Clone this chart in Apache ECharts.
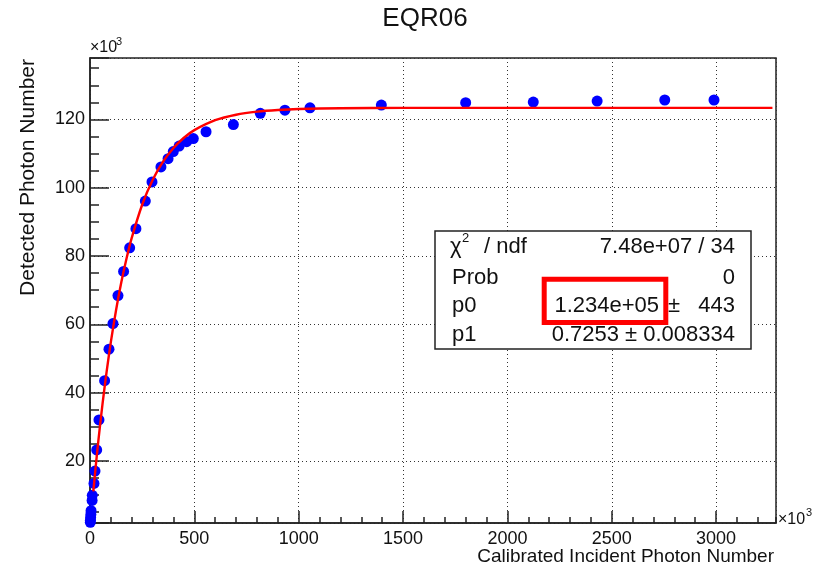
<!DOCTYPE html>
<html><head><meta charset="utf-8">
<script src="https://cdn.jsdelivr.net/npm/echarts@6/dist/echarts.min.js"></script>
<style>html,body{margin:0;padding:0;background:#fff}#c{width:815px;height:566px}</style>
</head><body><div id="c"></div>
<script>
// ---- data (units: ×10^3) ----
const chartTitle = 'EQR06';
const xTitle = 'Calibrated Incident Photon Number';
const yTitle = 'Detected Photon Number';
const pointX = [1.5, 2, 3, 4, 5, 10, 11, 19, 24, 32, 43, 70, 91, 110, 134, 161, 190, 220, 265, 297, 340, 374, 399, 427, 463, 495, 556, 687, 816, 934, 1054, 1396, 1800, 2124, 2430, 2754, 2990];
const pointY = [2.0, 2.6, 3.4, 4.3, 5.4, 8.4, 9.9, 13.4, 17.0, 23.2, 32.0, 43.5, 52.7, 60.2, 68.4, 75.5, 82.4, 88.0, 96.1, 101.7, 106.1, 108.5, 110.6, 112.2, 113.5, 114.4, 116.4, 118.5, 121.8, 122.7, 123.4, 124.2, 124.9, 125.1, 125.4, 125.7, 125.7];
const fitX = [16, 25, 40, 60, 80, 100, 125, 150, 175, 200, 250, 300, 350, 400, 450, 500, 600, 700, 800, 900, 1000, 1200, 1500, 2000, 3270];
const fitY = [11.08, 16.87, 25.85, 36.67, 46.29, 54.84, 64.21, 72.30, 79.29, 85.31, 95.01, 102.24, 107.63, 111.64, 114.64, 116.87, 119.77, 121.38, 122.28, 122.78, 123.05, 123.29, 123.38, 123.40, 123.40];
const xRange = [0, 3287];
const yRange = [1.8, 138];
const xMajor = 500, xMinor = 100;
const yMajor = 20, yMinor = 5;
const statsLabels = ['χ', 'Prob', 'p0', 'p1'];
const statsValues = ['7.48e+07 / 34', '0', '443', '0.7253 ± 0.008334'];
const p0Value = '1.234e+05';

const FONT = '"Liberation Sans", Arial, Helvetica, sans-serif';
const AX = '#222';
function isMult(v, m) { return Math.abs(v / m - Math.round(v / m)) < 1e-6; }

const chart = echarts.init(document.getElementById('c'), null, {renderer: 'canvas'});
const rows = [246.7, 278, 306, 335];
const SF = '22px ' + FONT;

chart.setOption({
  backgroundColor: '#fff',
  animation: false,
  grid: {left: 90, right: 39, top: 58, bottom: 43, show: true, borderColor: AX, borderWidth: 1.5, backgroundColor: 'transparent'},
  xAxis: [{
    type: 'value', min: xRange[0], max: xRange[1], interval: xMajor, position: 'bottom',
    axisLine: {show: true, lineStyle: {color: AX, width: 1.5}},
    axisTick: {show: true, inside: true, length: 12, lineStyle: {color: AX, width: 1.5}},
    splitLine: {show: true, lineStyle: {color: '#333', width: 1, type: [1, 3]}},
    axisLabel: {margin: 7, fontSize: 18, color: '#111', fontFamily: FONT, showMaxLabel: false,
      formatter: v => isMult(v, xMajor) ? String(Math.round(v)) : ''}
  }, {
    type: 'value', min: xRange[0], max: xRange[1], interval: xMinor, position: 'bottom',
    axisLine: {show: false}, axisLabel: {show: false}, splitLine: {show: false},
    axisTick: {show: true, inside: true, length: 6, lineStyle: {color: AX, width: 1.5}}
  }],
  yAxis: [{
    type: 'value', min: yRange[0], max: yRange[1], splitNumber: 7, minInterval: yMajor, maxInterval: yMajor, position: 'left',
    axisLine: {show: true, lineStyle: {color: AX, width: 1.5}},
    axisTick: {show: true, inside: true, length: 19, lineStyle: {color: AX, width: 1.5}},
    splitLine: {show: true, lineStyle: {color: '#333', width: 1, type: [1, 3]}},
    axisLabel: {margin: 5, fontSize: 18, color: '#111', fontFamily: FONT,
      formatter: v => (isMult(v, yMajor) && v > 1) ? String(Math.round(v)) : ''}
  }, {
    type: 'value', min: yRange[0], max: yRange[1], splitNumber: 27, minInterval: yMinor, maxInterval: yMinor, position: 'left',
    axisLine: {show: false}, axisLabel: {show: false}, splitLine: {show: false},
    axisTick: {show: true, inside: true, length: 9, lineStyle: {color: AX, width: 1.5}}
  }],
  series: [{
    type: 'scatter', xAxisIndex: 0, yAxisIndex: 0,
    data: pointX.map((x, i) => [x, pointY[i]]),
    symbol: 'circle', symbolSize: 11, itemStyle: {color: '#0000ff', opacity: 1}, z: 3
  }, {
    type: 'line', xAxisIndex: 0, yAxisIndex: 0,
    data: fitX.map((x, i) => [x, fitY[i]]),
    smooth: 0.3, showSymbol: false, symbol: 'none',
    lineStyle: {color: '#ff0000', width: 2.4}, z: 4
  }],
  graphic: [
    {type: 'text', x: 425, y: 19, z: 10, style: {text: chartTitle, font: '26px ' + FONT, fill: '#111', textAlign: 'center', textVerticalAlign: 'middle'}},
    {type: 'text', x: 774, y: 557, z: 10, style: {text: xTitle, font: '19px ' + FONT, fill: '#111', textAlign: 'right', textVerticalAlign: 'middle'}},
    {type: 'text', x: 28, y: 59, rotation: Math.PI / 2, z: 10, style: {text: yTitle, font: '21px ' + FONT, fill: '#111', textAlign: 'right', textVerticalAlign: 'middle'}},
    {type: 'text', x: 90, y: 48, z: 10, style: {text: '×10', font: '16px ' + FONT, fill: '#111', textAlign: 'left', textVerticalAlign: 'middle'}},
    {type: 'text', x: 116, y: 42, z: 10, style: {text: '3', font: '11px ' + FONT, fill: '#111', textAlign: 'left', textVerticalAlign: 'middle'}},
    {type: 'text', x: 778, y: 520, z: 10, style: {text: '×10', font: '16px ' + FONT, fill: '#111', textAlign: 'left', textVerticalAlign: 'middle'}},
    {type: 'text', x: 806, y: 513, z: 10, style: {text: '3', font: '11px ' + FONT, fill: '#111', textAlign: 'left', textVerticalAlign: 'middle'}},
    // stats box
    {type: 'rect', z: 20, shape: {x: 435, y: 231, width: 316, height: 118}, style: {fill: '#fff', stroke: AX, lineWidth: 1.5}},
    {type: 'text', x: 450, y: rows[0], z: 21, style: {text: statsLabels[0], font: SF, fill: '#111', textAlign: 'left', textVerticalAlign: 'middle'}},
    {type: 'text', x: 462, y: rows[0] - 8, z: 21, style: {text: '2', font: '13px ' + FONT, fill: '#111', textAlign: 'left', textVerticalAlign: 'middle'}},
    {type: 'text', x: 484, y: rows[0], z: 21, style: {text: '/ ndf', font: SF, fill: '#111', textAlign: 'left', textVerticalAlign: 'middle'}},
    {type: 'text', x: 452, y: rows[1], z: 21, style: {text: statsLabels[1], font: SF, fill: '#111', textAlign: 'left', textVerticalAlign: 'middle'}},
    {type: 'text', x: 452, y: rows[2], z: 21, style: {text: statsLabels[2], font: SF, fill: '#111', textAlign: 'left', textVerticalAlign: 'middle'}},
    {type: 'text', x: 452, y: rows[3], z: 21, style: {text: statsLabels[3], font: SF, fill: '#111', textAlign: 'left', textVerticalAlign: 'middle'}},
    {type: 'text', x: 735, y: rows[0], z: 21, style: {text: statsValues[0], font: SF, fill: '#111', textAlign: 'right', textVerticalAlign: 'middle'}},
    {type: 'text', x: 735, y: rows[1], z: 21, style: {text: statsValues[1], font: SF, fill: '#111', textAlign: 'right', textVerticalAlign: 'middle'}},
    {type: 'text', x: 659, y: rows[2], z: 21, style: {text: p0Value, font: SF, fill: '#111', textAlign: 'right', textVerticalAlign: 'middle'}},
    {type: 'text', x: 674, y: rows[2], z: 21, style: {text: '±', font: SF, fill: '#111', textAlign: 'center', textVerticalAlign: 'middle'}},
    {type: 'text', x: 735, y: rows[2], z: 21, style: {text: statsValues[2], font: SF, fill: '#111', textAlign: 'right', textVerticalAlign: 'middle'}},
    {type: 'text', x: 735, y: rows[3], z: 21, style: {text: statsValues[3], font: SF, fill: '#111', textAlign: 'right', textVerticalAlign: 'middle'}},
    {type: 'rect', z: 22, shape: {x: 544.2, y: 279.2, width: 121.6, height: 43.3}, style: {fill: 'none', stroke: '#ff0000', lineWidth: 5}}
  ]
});
</script></body></html>
